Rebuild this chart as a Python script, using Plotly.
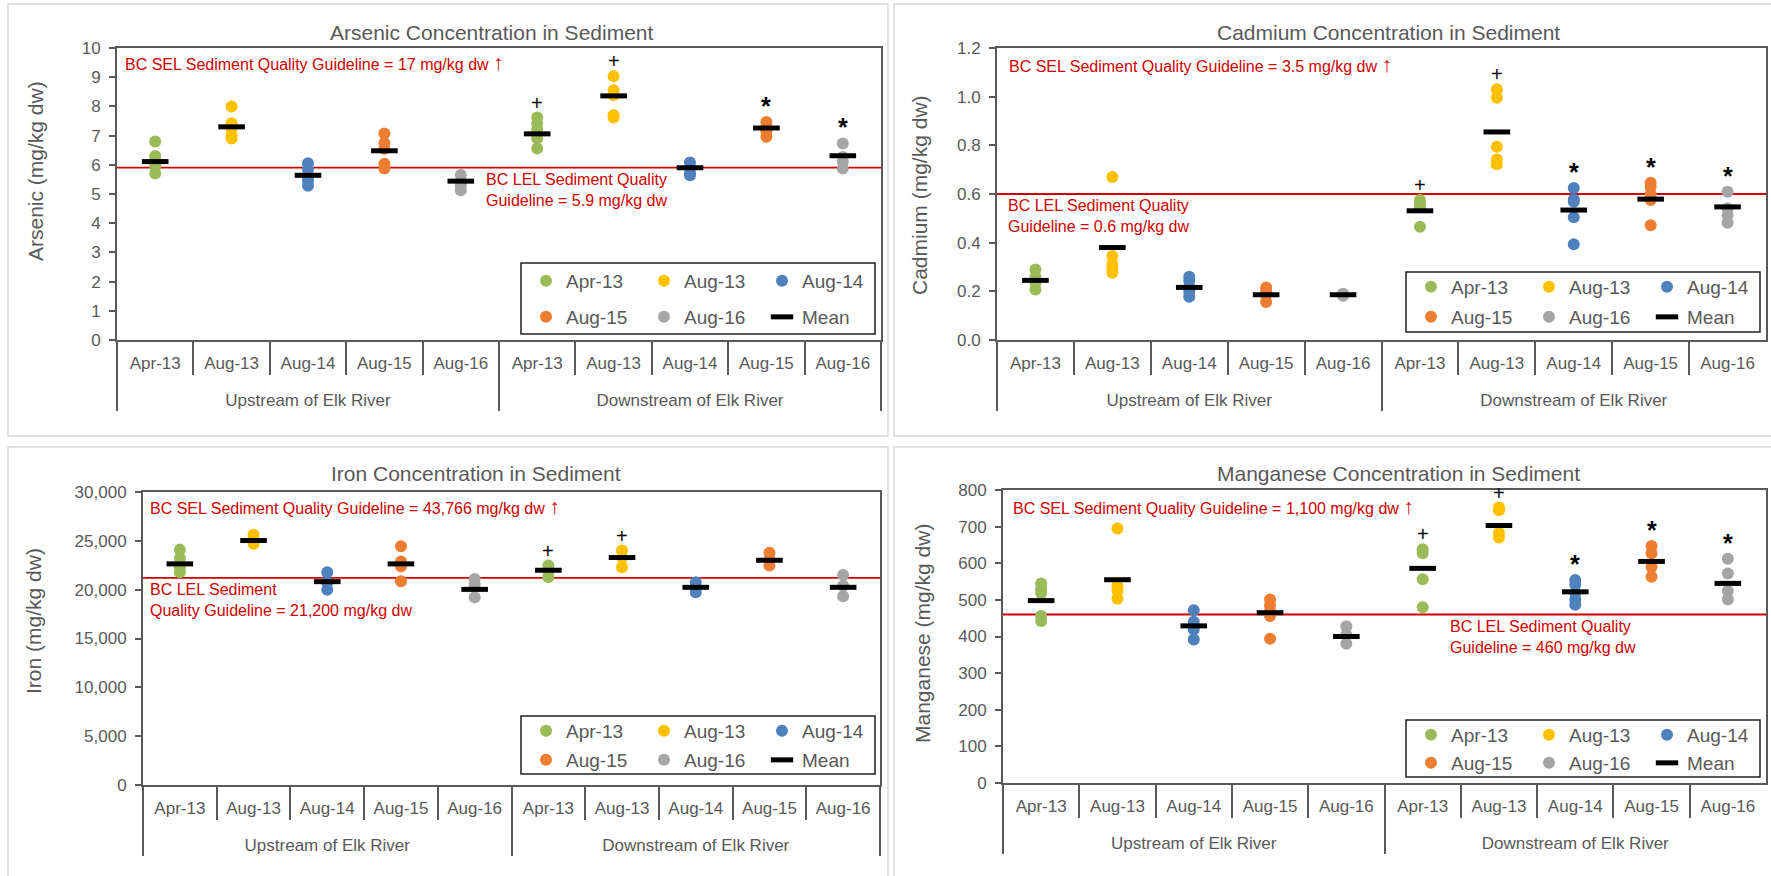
import plotly.graph_objects as go

# ---------------- data ----------------
dates = ["Apr-13", "Aug-13", "Aug-14", "Aug-15", "Aug-16"]
locations = ["Upstream of Elk River", "Downstream of Elk River"]
date_colors = ["#9BBB59", "#FFC000", "#4F81BD", "#ED7D31", "#A5A5A5"]

# Arsenic (mg/kg dw)
arsenic_up = [[6.8, 6.3, 6.15, 5.95, 5.7], [8.0, 7.42, 7.25, 7.0, 6.9], [6.05, 5.85, 5.6, 5.45, 5.28],
              [7.07, 6.75, 6.55, 6.04, 5.87], [5.65, 5.45, 5.3, 5.13]]
arsenic_down = [[7.62, 7.41, 7.2, 6.9, 6.56], [9.03, 8.55, 8.38, 7.7, 7.62], [6.08, 5.9, 5.72, 5.64],
                [7.47, 7.3, 7.15, 6.96], [6.73, 6.27, 6.1, 5.87]]
arsenic_mean_up = [6.11, 7.30, 5.64, 6.48, 5.44]
arsenic_mean_down = [7.06, 8.36, 5.90, 7.26, 6.31]
arsenic_flags_down = ["+", "+", "", "*", "*"]
arsenic_lel = 5.9

# Cadmium (mg/kg dw)
cadmium_up = [[0.29, 0.26, 0.235, 0.208], [0.67, 0.345, 0.31, 0.29, 0.276], [0.26, 0.245, 0.22, 0.2, 0.178],
              [0.216, 0.2, 0.185, 0.156], [0.19, 0.186, 0.182]]
cadmium_down = [[0.575, 0.56, 0.547, 0.465], [1.03, 0.996, 0.794, 0.742, 0.722], [0.625, 0.577, 0.568, 0.504, 0.393],
                [0.646, 0.629, 0.6, 0.575, 0.472], [0.609, 0.54, 0.513, 0.482]]
cadmium_mean_up = [0.245, 0.38, 0.216, 0.186, 0.186]
cadmium_mean_down = [0.531, 0.855, 0.534, 0.579, 0.547]
cadmium_flags_down = ["+", "+", "*", "*", "*"]
cadmium_lel = 0.6

# Iron (mg/kg dw)
iron_up = [[24100, 23220, 22290, 21780], [25620, 25100, 24690], [21780, 20750, 20000],
           [24450, 22880, 22400, 20860], [21100, 20600, 20240, 19210]]
iron_down = [[22470, 21900, 21270], [24010, 23300, 22290], [20750, 20200, 19730],
             [23770, 23100, 22470], [21510, 20410, 19320]]
iron_mean_up = [22640, 25030, 20820, 22640, 20030]
iron_mean_down = [21990, 23290, 20240, 23010, 20240]
iron_flags_down = ["+", "+", "", "", ""]
iron_lel = 21200

# Manganese (mg/kg dw)
manganese_up = [[545, 530, 519, 456, 442], [695, 538, 524, 503], [472, 440, 430, 419, 392],
                [501, 485, 470, 456, 394], [428, 405, 380]]
manganese_down = [[638, 627, 556, 480], [752, 745, 683, 670], [554, 542, 519, 501, 487],
                  [647, 627, 590, 563], [612, 572, 524, 501]]
manganese_mean_up = [498, 555, 429, 465, 400]
manganese_mean_down = [586, 703, 522, 605, 545]
manganese_flags_down = ["+", "+", "*", "*", "*"]
manganese_lel = 460

titles = ["Arsenic Concentration in Sediment", "Cadmium Concentration in Sediment",
          "Iron Concentration in Sediment", "Manganese Concentration in Sediment"]
y_titles = ["Arsenic (mg/kg dw)", "Cadmium (mg/kg dw)", "Iron (mg/kg dw)", "Manganese (mg/kg dw)"]
sel_values = ["17", "3.5", "43,766", "1,100"]
lel_texts = ["BC LEL Sediment Quality<br>Guideline = 5.9 mg/kg dw",
             "BC LEL Sediment Quality<br>Guideline = 0.6 mg/kg dw",
             "BC LEL Sediment<br>Quality Guideline = 21,200 mg/kg dw",
             "BC LEL Sediment Quality<br>Guideline = 460 mg/kg dw"]

metal_up = [arsenic_up, cadmium_up, iron_up, manganese_up]
metal_down = [arsenic_down, cadmium_down, iron_down, manganese_down]
metal_mean_up = [arsenic_mean_up, cadmium_mean_up, iron_mean_up, manganese_mean_up]
metal_mean_down = [arsenic_mean_down, cadmium_mean_down, iron_mean_down, manganese_mean_down]
metal_flags = [arsenic_flags_down, cadmium_flags_down, iron_flags_down, manganese_flags_down]
metal_lel = [arsenic_lel, cadmium_lel, iron_lel, manganese_lel]

# ---------------- layout geometry (pixels) ----------------
W, H = 1771, 876
AX = "#595959"
TXT = "#595959"
RED = "#D00000"
FONT = "Liberation Sans, Arial, sans-serif"


def fx(p):
    return p / W


def fy(p):
    return 1 - p / H


panels = [
    dict(plot=(117, 48, 881, 340), frame=(8, 4, 888, 436), title=(492, 32), yt=(35, 171),
         sel=(123, 62), lel=(576, "center", "center"), leg_x=526, rows=(281, 317), box=(521, 263, 875, 334),
         yrange=[0, 10], dtick=1, fmt=""),
    dict(plot=(997, 48, 1766, 340), frame=(894, 4, 1790, 436), title=(1388, 32), yt=(919, 195),
         sel=(1007, 64), lel=(1006, "left", "left"), leg_x=1411, rows=(287, 317), box=(1406, 272, 1760, 332),
         yrange=[0, 1.2], dtick=0.2, fmt=".1f"),
    dict(plot=(143, 492, 880, 785), frame=(8, 447, 888, 900), title=(476, 473), yt=(33, 621),
         sel=(148, 506), lel=(148, "left", "left"), leg_x=526, rows=(731, 760), box=(521, 716, 875, 774),
         yrange=[0, 30000], dtick=5000, fmt=",d"),
    dict(plot=(1003, 490, 1766, 783), frame=(894, 447, 1790, 900), title=(1398, 473), yt=(922, 634),
         sel=(1011, 506), lel=(1448, "left", "left"), leg_x=1411, rows=(735, 763), box=(1406, 720, 1760, 777),
         yrange=[0, 800], dtick=100, fmt=""),
]

fig = go.Figure()
annotations = []
shapes = []
layout = {}

# outer-level tick text starts with an empty line so the group row sits lower, as in the source
outer_labels = [" <br>" + loc for loc in locations]

for i in range(4):
    p = panels[i]
    xa = "x" if i == 0 else f"x{i + 1}"
    ya = "y" if i == 0 else f"y{i + 1}"
    leg1 = "legend" if i == 0 else f"legend{2 * i + 1}"
    leg2 = f"legend{2 * i + 2}"

    # sample points, one trace per sampling date
    for d in range(5):
        xs0, xs1, ys = [], [], []
        for loc, vals in ((outer_labels[0], metal_up[i][d]), (outer_labels[1], metal_down[i][d])):
            for v in vals:
                xs0.append(loc)
                xs1.append(dates[d])
                ys.append(v)
        fig.add_trace(go.Scatter(
            x=[xs0, xs1], y=ys, mode="markers", name=dates[d],
            marker=dict(color=date_colors[d], size=12, line=dict(width=0)),
            xaxis=xa, yaxis=ya, legend=leg1 if d < 3 else leg2, hoverinfo="y"))
    # means
    mx0 = [outer_labels[0]] * 5 + [outer_labels[1]] * 5
    mx1 = dates + dates
    fig.add_trace(go.Scatter(
        x=[mx0, mx1], y=metal_mean_up[i] + metal_mean_down[i], mode="markers", name="Mean",
        marker=dict(symbol="line-ew", size=19, color="black", line=dict(width=5, color="black")),
        xaxis=xa, yaxis=ya, legend=leg2, hoverinfo="y"))

    x0, y0, x1, y1 = p["plot"]
    layout["xaxis" if i == 0 else f"xaxis{i + 1}"] = dict(
        type="multicategory", domain=[fx(x0), fx(x1)], anchor=ya, automargin=False,
        showline=True, linecolor=AX, linewidth=2, mirror=True,
        ticks="outside", tickson="boundaries", ticklen=33, tickcolor=AX, tickwidth=2,
        showdividers=True, dividercolor=AX, dividerwidth=2, ticklabelstandoff=7,
        tickfont=dict(size=17, color=TXT, family=FONT), showgrid=False, zeroline=False,
        range=[-0.5, 9.5], fixedrange=True)
    ydict = dict(
        domain=[fy(y1), fy(y0)], anchor=xa, range=p["yrange"], dtick=p["dtick"], tick0=0, automargin=False,
        showline=True, linecolor=AX, linewidth=2, mirror=True,
        ticks="outside", ticklen=6, tickcolor=AX, tickwidth=2, ticklabelstandoff=5,
        tickfont=dict(size=17, color=TXT, family=FONT), showgrid=False, zeroline=False, fixedrange=True)
    if p["fmt"]:
        ydict["tickformat"] = p["fmt"]
    layout["yaxis" if i == 0 else f"yaxis{i + 1}"] = ydict

    # legends (two rows)
    for leg, ry in ((leg1, p["rows"][0]), (leg2, p["rows"][1])):
        layout[leg] = dict(orientation="h", x=fx(p["leg_x"]), xanchor="left", y=fy(ry), yanchor="middle",
                           entrywidth=73, bgcolor="rgba(0,0,0,0)", borderwidth=0,
                           font=dict(size=19, color=TXT, family=FONT), tracegroupgap=0)
    bx0, by0, bx1, by1 = p["box"]
    shapes.append(dict(type="rect", xref="paper", yref="paper", x0=fx(bx0), x1=fx(bx1), y0=fy(by1), y1=fy(by0),
                       line=dict(color="#202020", width=1.5), layer="above"))

    # outer chart frame
    fx0, fy0, fx1, fy1 = p["frame"]
    shapes.append(dict(type="rect", xref="paper", yref="paper", x0=fx(fx0), x1=fx(fx1), y0=fy(fy1), y1=fy(fy0),
                       line=dict(color="#D9D9D9", width=1.5), layer="below"))

    # LEL guideline line
    shapes.append(dict(type="line", xref=f"{xa} domain", yref=ya, x0=0, x1=1,
                       y0=metal_lel[i], y1=metal_lel[i], line=dict(color=RED, width=1.8), layer="below"))

    # titles
    annotations.append(dict(text=titles[i], xref="paper", yref="paper", x=fx(p["title"][0]), y=fy(p["title"][1]),
                            xanchor="center", yanchor="middle", showarrow=False,
                            font=dict(size=21, color=TXT, family=FONT)))
    annotations.append(dict(text=y_titles[i], xref="paper", yref="paper", x=fx(p["yt"][0]), y=fy(p["yt"][1]),
                            xanchor="center", yanchor="middle", textangle=-90, showarrow=False,
                            font=dict(size=21, color=TXT, family=FONT)))
    sel_text = ("BC SEL Sediment Quality Guideline = " + sel_values[i] +
                " mg/kg dw <span style='font-size:21px'>\u2191</span>")
    annotations.append(dict(text=sel_text, xref="paper", yref="paper", x=fx(p["sel"][0]), y=fy(p["sel"][1]),
                            xanchor="left", yanchor="middle", showarrow=False,
                            font=dict(size=16, color=RED, family=FONT)))
    annotations.append(dict(text=lel_texts[i], xref="paper", yref=ya, x=fx(p["lel"][0]), y=metal_lel[i],
                            xanchor=p["lel"][1], align=p["lel"][2], yanchor="top", yshift=-1,
                            showarrow=False, font=dict(size=16, color=RED, family=FONT)))

    # significance flags above downstream groups
    for d in range(5):
        flag = metal_flags[i][d]
        if flag:
            annotations.append(dict(text=flag if flag == "+" else "<b>*</b>", xref=xa, yref=ya, x=5 + d,
                                    y=max(metal_down[i][d]),
                                    xanchor="center", yanchor="bottom", yshift=2 if flag == "+" else 0,
                                    showarrow=False,
                                    font=dict(size=20 if flag == "+" else 25, color="black", family=FONT)))

fig.update_layout(
    template="none",
    width=W, height=H, margin=dict(l=0, r=0, t=0, b=0, pad=0, autoexpand=False),
    paper_bgcolor="white", plot_bgcolor="white",
    font=dict(family=FONT, color=TXT),
    annotations=annotations, shapes=shapes, showlegend=True,
    **layout)

fig.write_html("out.html", config={"displayModeBar": False},
               post_script="document.body.style.margin='0';document.body.style.overflow='hidden';")
